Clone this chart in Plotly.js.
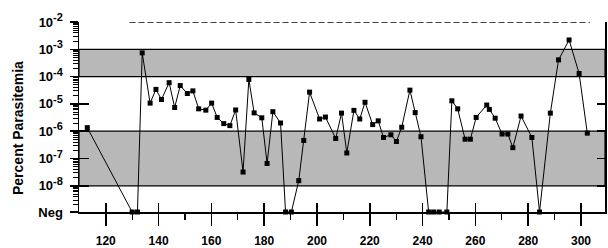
<!DOCTYPE html>
<html>
<head>
<meta charset="utf-8">
<script src="https://cdn.plot.ly/plotly-3.0.1.min.js"></script>
<style>html,body{margin:0;padding:0;background:#fff;}#chart{width:608px;height:248px;}</style>
</head>
<body>
<div id="chart"></div>
<script>
// Negative (undetectable) samples are drawn on the "Neg" baseline
const NEG = 1.1e-9;

const days = [113, 130, 132, 133.8, 136.8, 139, 141.1, 144, 146.1, 148.2,
  150.9, 153, 155.2, 157.9, 160.1, 162.2, 164.7, 167, 169.2, 172,
  174.2, 176.2, 179.1, 181.1, 183.3, 186.2, 188.1, 190.3, 193.1, 195,
  197.2, 201, 203.2, 207.1, 209.3, 211.3, 214, 216.2, 218.2, 221.1,
  223.2, 225.2, 228, 230.1, 232.1, 235.2, 237.2, 239.4, 242.3, 244.2,
  246.3, 249.2, 251.1, 253.3, 256.1, 258.1, 260.3, 264.3, 265.3, 267.5,
  270.1, 272.3, 274.2, 277.3, 281.4, 284.3, 288.4, 291.5, 295.5, 299.3, 302.4];

const parasitemia = [1.35e-6, NEG, NEG, 7.4e-4, 1.07e-5, 3.4e-5, 1.45e-5, 6.0e-5, 7.4e-6, 4.7e-5,
  2.4e-5, 3.0e-5, 6.6e-6, 5.9e-6, 1.07e-5, 3.2e-6, 1.9e-6, 1.6e-6, 6.0e-6, 3.2e-8,
  7.9e-5, 4.7e-6, 3.1e-6, 6.6e-8, 5.2e-6, 2.0e-6, NEG, NEG, 1.55e-8, 4.6e-7,
  2.7e-5, 2.8e-6, 3.3e-6, 5.4e-7, 4.6e-6, 1.6e-7, 5.8e-6, 2.8e-6, 1.15e-5, 1.75e-6,
  2.4e-6, 5.9e-7, 7.4e-7, 4.2e-7, 1.4e-6, 3.2e-5, 4.8e-6, 6.3e-7, NEG, NEG,
  NEG, NEG, 1.3e-5, 6.6e-6, 5.1e-7, 5.1e-7, 3.2e-6, 9.1e-6, 6.3e-6, 3.0e-6,
  7.9e-7, 7.9e-7, 2.5e-7, 3.6e-6, 5.9e-7, NEG, 4.6e-6, 4.1e-4, 2.2e-3, 1.3e-4, 8.5e-7];

// reference bands (shaded) and upper dashed threshold
const bandHigh = [1e-4, 1e-3];
const bandLow = [1e-8, 1e-6];
const thresholdX = [129, 303.4];
const thresholdY = [1e-2, 1e-2];

const xRange = [109.86, 309.1];
const xMajor = [120, 140, 160, 180, 200, 220, 240, 260, 280, 300];
const xMinor = [130, 150, 170, 190, 210, 230, 250, 270, 290];
const yMajor = [1e-2, 1e-3, 1e-4, 1e-5, 1e-6, 1e-7, 1e-8, NEG];
const yExponents = ['-2', '-3', '-4', '-5', '-6', '-7', '-8'];
const yMajorText = yExponents.map(e => '10<sup><span style="font-size:11px">' + e + '</span></sup>').concat(['Neg']);
const yDecades = [1e-2, 1e-3, 1e-4, 1e-5, 1e-6, 1e-7, 1e-8];
const yMinor = [];
[1e-9, 1e-8, 1e-7, 1e-6, 1e-5, 1e-4, 1e-3].forEach(d => {
  for (let m = 2; m <= 9; m++) yMinor.push(m * d);
});

const yRange = [Math.log10(NEG), -2];
const FONT = 'Liberation Sans, Arial, Helvetica, sans-serif';

function bandTrace(b) {
  return {
    x: [xRange[0], xRange[1], xRange[1], xRange[0], xRange[0]],
    y: [b[0], b[0], b[1], b[1], b[0]],
    mode: 'lines', fill: 'toself',
    fillcolor: '#bdbdbd',
    fillpattern: {shape: '.', size: 2, solidity: 0.5, fgcolor: '#808080', bgcolor: '#e4e4e4'},
    line: {color: '#000', width: 1.2},
    hoverinfo: 'skip', showlegend: false
  };
}

const traces = [
  bandTrace(bandHigh),
  bandTrace(bandLow),
  {
    x: thresholdX, y: thresholdY, mode: 'lines',
    line: {color: '#000', width: 1.3, dash: '6px,3px'},
    showlegend: false, cliponaxis: false
  },
  {
    x: days, y: parasitemia, mode: 'lines+markers',
    line: {color: '#000', width: 1},
    marker: {symbol: 'square', size: 5, color: '#000'},
    cliponaxis: false, showlegend: false
  },
  {x: [], y: [], xaxis: 'x2', yaxis: 'y2', showlegend: false},
  {x: [], y: [], xaxis: 'x', yaxis: 'y3', showlegend: false}
];

const layout = {
  width: 608, height: 248,
  margin: {l: 79, r: 3, t: 22, b: 36},
  paper_bgcolor: '#fff', plot_bgcolor: 'rgba(0,0,0,0)',
  font: {family: FONT, color: '#000'},
  showlegend: false,
  xaxis: {
    range: xRange, tickmode: 'array', tickvals: xMajor, ticktext: xMajor.map(String),
    ticks: 'outside', ticklen: 12, tickwidth: 1.5, tickcolor: '#000',
    minor: {tickmode: 'array', tickvals: xMinor, ticks: 'outside', ticklen: 6, tickwidth: 1.2, tickcolor: '#000', showgrid: false},
    showline: true, linecolor: '#000', linewidth: 1.5,
    showgrid: false, zeroline: false, ticklabelstandoff: 5,
    tickfont: {family: FONT, size: 12, color: '#000', weight: 'bold'}
  },
  xaxis2: {
    overlaying: 'x', anchor: 'y', range: xRange, tickmode: 'array', tickvals: xMajor,
    ticks: 'inside', ticklen: 9, tickwidth: 1.5, tickcolor: '#000',
    showticklabels: false, showgrid: false, zeroline: false, showline: false
  },
  yaxis: {
    type: 'log', range: yRange, tickmode: 'array', tickvals: yMajor, ticktext: yMajorText,
    ticks: 'outside', ticklen: 8, tickwidth: 1.5, tickcolor: '#000',
    minor: {tickmode: 'array', tickvals: yMinor, ticks: 'outside', ticklen: 5, tickwidth: 1, tickcolor: '#000', showgrid: false},
    showline: true, linecolor: '#000', linewidth: 1.5,
    showgrid: false, zeroline: false, ticklabelstandoff: 4,
    tickfont: {family: FONT, size: 13, color: '#000', weight: 'bold'}
  },
  yaxis2: {
    type: 'log', overlaying: 'y', anchor: 'x', side: 'left', range: yRange,
    tickmode: 'array', tickvals: yDecades,
    ticks: 'inside', ticklen: 10, tickwidth: 1.5, tickcolor: '#000',
    showticklabels: false, showgrid: false, zeroline: false, showline: false
  },
  yaxis3: {
    type: 'log', overlaying: 'y', anchor: 'x', side: 'right', range: yRange,
    tickmode: 'array', tickvals: yDecades,
    ticks: 'inside', ticklen: 8, tickwidth: 1.5, tickcolor: '#000',
    showticklabels: false, showgrid: false, zeroline: false,
    showline: true, linecolor: '#000', linewidth: 1.5
  },
  annotations: [{
    text: 'Percent Parasitemia', xref: 'paper', yref: 'paper',
    x: -0.116, y: 0.442, xanchor: 'center', yanchor: 'middle', textangle: -90,
    showarrow: false, font: {family: FONT, size: 14, color: '#000', weight: 'bold'}
  }]
};

Plotly.newPlot('chart', traces, layout, {staticPlot: true, displayModeBar: false});
</script>
</body>
</html>
